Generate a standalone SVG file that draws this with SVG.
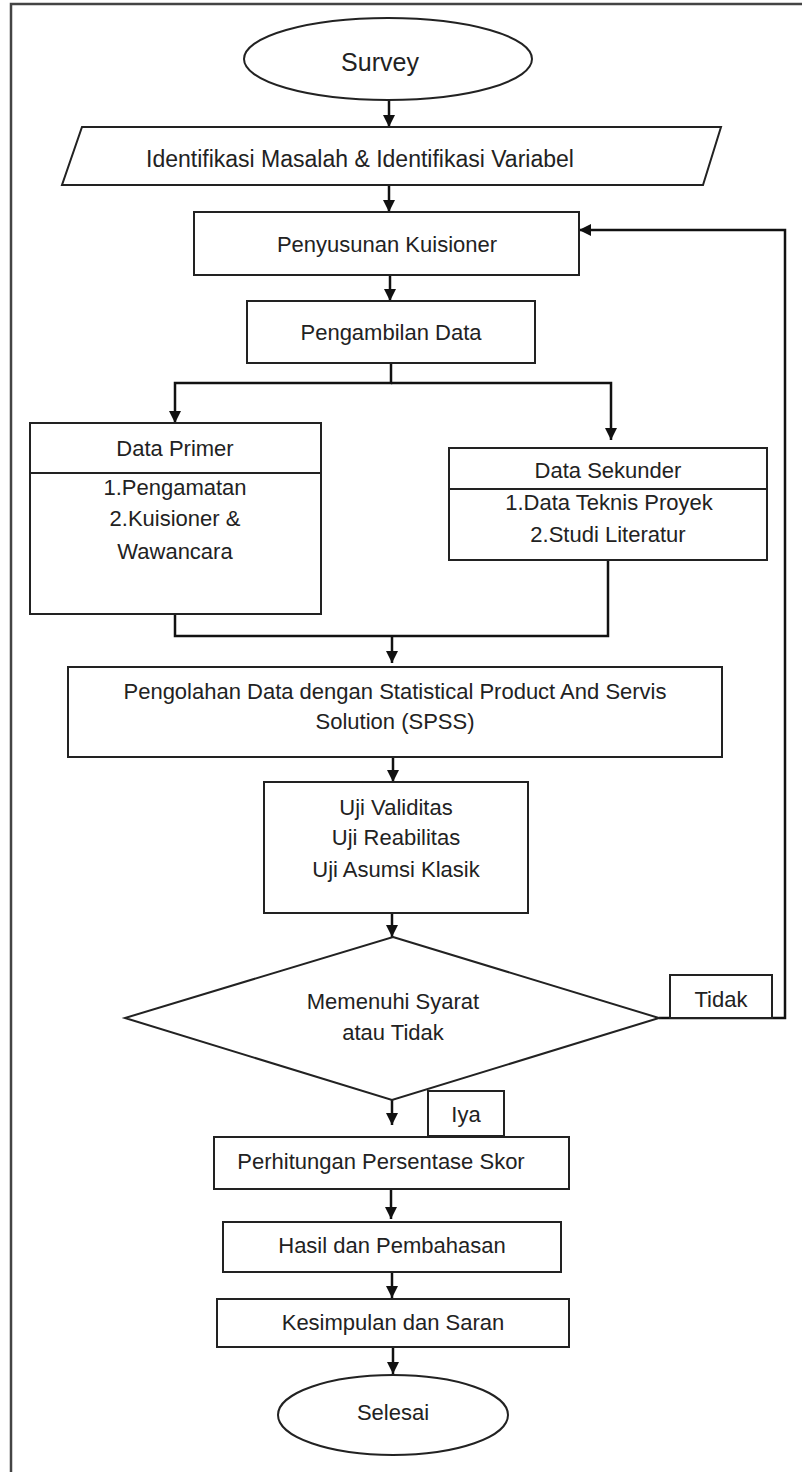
<svg xmlns="http://www.w3.org/2000/svg" width="802" height="1472" viewBox="0 0 802 1472">
<defs>
<marker id="ah" markerUnits="userSpaceOnUse" markerWidth="12" markerHeight="14" viewBox="0 0 12 14" refX="12" refY="7" orient="auto">
<path d="M0,1 L12,7 L0,13 Z" fill="#111"/>
</marker>
</defs>
<style>
.s{fill:#fff;stroke:#222;stroke-width:2}
.c{fill:none;stroke:#111;stroke-width:2.5}
.t{font-family:"Liberation Sans",Arial,sans-serif;font-size:22px;fill:#222;text-anchor:middle}
.f{fill:none;stroke:#444;stroke-width:2.5}
</style>
<rect width="802" height="1472" fill="#fff"/>
<g id="frame">
<path class="f" d="M11,1472 V4 H802"/>
</g>
<g id="connectors">
<path class="c" d="M389,100 V127" marker-end="url(#ah)"/>
<path class="c" d="M389,185 V212" marker-end="url(#ah)"/>
<path class="c" d="M390,275 V301" marker-end="url(#ah)"/>
<path class="c" d="M391,363 V383 H175 V423" marker-end="url(#ah)"/>
<path class="c" d="M391,383 H611 V440" marker-end="url(#ah)"/>
<path class="c" d="M175,614 V636 H608 V560"/>
<path class="c" d="M392,636 V663" marker-end="url(#ah)"/>
<path class="c" d="M393,757 V782" marker-end="url(#ah)"/>
<path class="c" d="M392,913 V937" marker-end="url(#ah)"/>
<path class="c" d="M659,1018 H785 V230 H579" marker-end="url(#ah)"/>
<path class="c" d="M392,1100 V1125" marker-end="url(#ah)"/>
<path class="c" d="M391,1189 V1219" marker-end="url(#ah)"/>
<path class="c" d="M392,1272 V1298" marker-end="url(#ah)"/>
<path class="c" d="M393,1347 V1374" marker-end="url(#ah)"/>
</g>
<g id="survey">
<ellipse class="s" cx="388" cy="59" rx="144" ry="41"/>
<text class="t" x="380" y="71" style="font-size:25px">Survey</text>
</g>
<g id="identifikasi">
<polygon class="s" points="82,127 721,127 703,185 62,185"/>
<text class="t" x="360" y="167" style="font-size:23px">Identifikasi Masalah &amp; Identifikasi Variabel</text>
</g>
<g id="penyusunan">
<rect class="s" x="194" y="212" width="385" height="63"/>
<text class="t" x="387" y="252">Penyusunan Kuisioner</text>
</g>
<g id="pengambilan">
<rect class="s" x="247" y="301" width="288" height="62"/>
<text class="t" x="391" y="340">Pengambilan Data</text>
</g>
<g id="primer">
<rect class="s" x="30" y="423" width="291" height="191"/>
<line class="s" x1="30" y1="473" x2="321" y2="473"/>
<text class="t" x="175" y="456">Data Primer</text>
<text class="t" x="175" y="495">1.Pengamatan</text>
<text class="t" x="175" y="526">2.Kuisioner &amp;</text>
<text class="t" x="175" y="559">Wawancara</text>
</g>
<g id="sekunder">
<rect class="s" x="449" y="448" width="318" height="112"/>
<line class="s" x1="449" y1="489" x2="767" y2="489"/>
<text class="t" x="608" y="478">Data Sekunder</text>
<text class="t" x="609" y="510">1.Data Teknis Proyek</text>
<text class="t" x="608" y="542">2.Studi Literatur</text>
</g>
<g id="pengolahan">
<rect class="s" x="68" y="667" width="654" height="90"/>
<text class="t" x="395" y="699">Pengolahan Data dengan Statistical Product And Servis</text>
<text class="t" x="395" y="729">Solution (SPSS)</text>
</g>
<g id="uji">
<rect class="s" x="264" y="782" width="264" height="131"/>
<text class="t" x="396" y="815">Uji Validitas</text>
<text class="t" x="396" y="845">Uji Reabilitas</text>
<text class="t" x="396" y="877">Uji Asumsi Klasik</text>
</g>
<g id="keputusan">
<polygon class="s" points="393,937 659,1018 392,1100 125,1018"/>
<text class="t" x="393" y="1009">Memenuhi Syarat</text>
<text class="t" x="393" y="1040">atau Tidak</text>
</g>
<g id="tidak">
<rect class="s" x="670" y="975" width="102" height="43"/>
<text class="t" x="721" y="1007">Tidak</text>
</g>
<g id="iya">
<rect class="s" x="428" y="1091" width="76" height="45"/>
<text class="t" x="466" y="1122">Iya</text>
</g>
<g id="perhitungan">
<rect class="s" x="214" y="1137" width="355" height="52"/>
<text class="t" x="381" y="1169">Perhitungan Persentase Skor</text>
</g>
<g id="hasil">
<rect class="s" x="223" y="1222" width="338" height="50"/>
<text class="t" x="392" y="1253">Hasil dan Pembahasan</text>
</g>
<g id="kesimpulan">
<rect class="s" x="217" y="1299" width="352" height="48"/>
<text class="t" x="393" y="1330">Kesimpulan dan Saran</text>
</g>
<g id="selesai">
<ellipse class="s" cx="393" cy="1415" rx="115" ry="40"/>
<text class="t" x="393" y="1420">Selesai</text>
</g>
</svg>
